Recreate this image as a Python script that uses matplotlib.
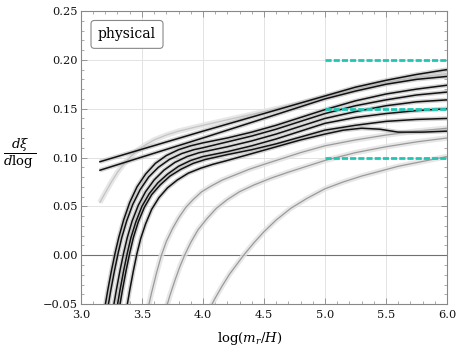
import numpy as np
import matplotlib
matplotlib.use("Agg")
import matplotlib.pyplot as plt
from matplotlib.ticker import MultipleLocator

# ---- data ----
# two nearly straight black curves
lineA_x = [3.156, 3.5, 4.0, 4.5, 4.75, 5.0, 5.25, 5.5, 5.75, 6.0]
lineA_y = [0.0957, 0.1085, 0.127, 0.145, 0.154, 0.163, 0.172, 0.179, 0.185, 0.190]
lineB_x = [3.156, 3.5, 4.0, 4.5, 4.75, 5.0, 5.25, 5.5, 5.75, 6.0]
lineB_y = [0.087, 0.1005, 0.120, 0.140, 0.150, 0.160, 0.168, 0.175, 0.180, 0.183]

# steep black bundle
s1_x = [3.19, 3.22, 3.25, 3.28, 3.31, 3.35, 3.40, 3.46, 3.53, 3.61, 3.70, 3.80, 3.90,
        4.0, 4.2, 4.4, 4.6, 4.8, 5.0, 5.25, 5.5, 5.75, 6.0]
s1_y = [-0.058, -0.036, -0.016, 0.002, 0.018, 0.036, 0.054, 0.070, 0.083, 0.094, 0.102,
        0.108, 0.112, 0.115, 0.120, 0.126, 0.133, 0.141, 0.149, 0.158, 0.165, 0.170, 0.174]
s2_x = [3.215, 3.245, 3.275, 3.305, 3.335, 3.375, 3.425, 3.485, 3.555, 3.635, 3.725,
        3.825, 3.925, 4.0, 4.2, 4.4, 4.6, 4.8, 5.0, 5.25, 5.5, 5.75, 6.0]
s2_y = [-0.058, -0.036, -0.016, 0.002, 0.018, 0.035, 0.052, 0.067, 0.080, 0.090, 0.098,
        0.104, 0.108, 0.110, 0.116, 0.122, 0.129, 0.137, 0.145, 0.153, 0.159, 0.164, 0.167]
s3_x = [3.26, 3.29, 3.32, 3.35, 3.38, 3.42, 3.47, 3.53, 3.60, 3.68, 3.77, 3.87, 3.97,
        4.2, 4.4, 4.6, 4.8, 5.0, 5.25, 5.5, 5.75, 6.0]
s3_y = [-0.058, -0.036, -0.016, 0.002, 0.018, 0.035, 0.051, 0.065, 0.077, 0.087, 0.095,
        0.101, 0.105, 0.111, 0.117, 0.124, 0.132, 0.140, 0.147, 0.153, 0.157, 0.159]
s4_x = [3.29, 3.32, 3.35, 3.38, 3.41, 3.45, 3.50, 3.56, 3.63, 3.71, 3.80, 3.90, 4.0,
        4.2, 4.4, 4.6, 4.8, 5.0, 5.25, 5.5, 5.75, 6.0]
s4_y = [-0.058, -0.036, -0.016, 0.002, 0.018, 0.034, 0.050, 0.063, 0.074, 0.083, 0.091,
        0.097, 0.101, 0.106, 0.112, 0.119, 0.127, 0.135, 0.141, 0.145, 0.148, 0.150]
s5_x = [3.31, 3.34, 3.37, 3.40, 3.43, 3.47, 3.52, 3.58, 3.65, 3.73, 3.82, 3.92, 4.02,
        4.2, 4.4, 4.6, 4.8, 5.0, 5.25, 5.5, 5.75, 6.0]
s5_y = [-0.058, -0.036, -0.016, 0.002, 0.018, 0.034, 0.049, 0.062, 0.072, 0.081, 0.088,
        0.094, 0.098, 0.103, 0.108, 0.114, 0.121, 0.128, 0.133, 0.137, 0.139, 0.140]
s6_x = [3.37, 3.40, 3.43, 3.46, 3.49, 3.53, 3.58, 3.64, 3.71, 3.79, 3.88, 3.98, 4.08,
        4.2, 4.4, 4.6, 4.8, 5.0, 5.15, 5.3, 5.45, 5.6, 5.8, 6.0]
s6_y = [-0.058, -0.036, -0.016, 0.002, 0.017, 0.032, 0.047, 0.059, 0.069, 0.077, 0.084,
        0.089, 0.093, 0.097, 0.104, 0.111, 0.118, 0.124, 0.128, 0.130, 0.129, 0.126, 0.126, 0.127]

# gray curves
g0_x = [3.156, 3.2, 3.25, 3.3, 3.35, 3.4, 3.46, 3.53, 3.6, 3.7, 3.8, 3.9, 4.0, 4.25,
        4.5, 4.75, 5.0, 5.25, 5.5, 5.75, 6.0]
g0_y = [0.054, 0.064, 0.075, 0.085, 0.093, 0.100, 0.107, 0.113, 0.118, 0.123, 0.127,
        0.130, 0.133, 0.140, 0.147, 0.154, 0.162, 0.170, 0.177, 0.182, 0.186]
g1_x = [3.54, 3.58, 3.62, 3.66, 3.70, 3.75, 3.80, 3.86, 3.92, 3.99, 4.07, 4.16, 4.26,
        4.38, 4.5, 4.65, 4.8, 5.0, 5.25, 5.5, 5.75, 6.0]
g1_y = [-0.06, -0.038, -0.018, 0.0, 0.014, 0.027, 0.038, 0.049, 0.057, 0.065, 0.071,
        0.077, 0.082, 0.088, 0.093, 0.099, 0.105, 0.112, 0.118, 0.123, 0.127, 0.130]
g2_x = [3.69, 3.73, 3.77, 3.81, 3.85, 3.90, 3.96, 4.03, 4.11, 4.2, 4.3, 4.42, 4.56,
        4.7, 4.85, 5.0, 5.25, 5.5, 5.75, 6.0]
g2_y = [-0.058, -0.041, -0.026, -0.012, 0.0, 0.013, 0.026, 0.037, 0.048, 0.057, 0.065,
        0.072, 0.079, 0.085, 0.091, 0.097, 0.105, 0.111, 0.116, 0.120]
g3_x = [4.05, 4.1, 4.16, 4.22, 4.28, 4.34, 4.42, 4.5, 4.6, 4.72, 4.85, 5.0, 5.15,
        5.3, 5.45, 5.6, 5.8, 6.0]
g3_y = [-0.056, -0.044, -0.031, -0.019, -0.009, 0.001, 0.013, 0.024, 0.036, 0.048,
        0.058, 0.068, 0.075, 0.081, 0.086, 0.091, 0.096, 0.101]

# cyan reference levels
ref_levels = [0.10, 0.15, 0.20]
ref_xrange = [5.0, 6.0]

xticks = [3.0, 3.5, 4.0, 4.5, 5.0, 5.5, 6.0]
yticks = [-0.05, 0.00, 0.05, 0.10, 0.15, 0.20, 0.25]

plt.rcParams['font.family'] = 'DejaVu Serif'
plt.rcParams['mathtext.fontset'] = 'dejavuserif'

fig = plt.figure(figsize=(4.57, 3.54), dpi=100)
ax = fig.add_axes([0.177, 0.141, 0.801, 0.828])

gray_curves = [(g0_x, g0_y, '#c4c4c4'), (g1_x, g1_y, '#9a9a9a'),
               (g2_x, g2_y, '#9a9a9a'), (g3_x, g3_y, '#9a9a9a')]
black_curves = [(s6_x, s6_y), (s5_x, s5_y), (s4_x, s4_y), (s3_x, s3_y),
                (s2_x, s2_y), (s1_x, s1_y), (lineB_x, lineB_y), (lineA_x, lineA_y)]

for x, y, c in gray_curves:
    ax.plot(x, y, color='#e2e2e2', lw=4.0, alpha=0.8, zorder=2,
            solid_capstyle='butt', solid_joinstyle='round')
    ax.plot(x, y, color=c, lw=0.9, zorder=3, solid_joinstyle='round')

for x, y in black_curves:
    ax.plot(x, y, color='#b0b0b0', lw=3.2, alpha=0.55, zorder=4,
            solid_capstyle='butt', solid_joinstyle='round')
for x, y in black_curves:
    ax.plot(x, y, color='#111111', lw=1.1, zorder=5, solid_joinstyle='round')

for lev in ref_levels:
    ax.plot(ref_xrange, [lev, lev], color='#1fc6b3', lw=2.0,
            linestyle=(0, (2.2, 0.75)), zorder=6)

ax.axhline(0, color='#707070', lw=0.8, zorder=1)

ax.set_xlim(3.0, 6.0)
ax.set_ylim(-0.05, 0.25)
ax.set_xticks(xticks)
ax.set_yticks(yticks)
ax.set_xticklabels([f"{t:.1f}" for t in xticks])
ax.set_yticklabels([f"{t:.2f}".replace('-', '\u2212') for t in yticks])
ax.xaxis.set_minor_locator(MultipleLocator(0.1))
ax.yaxis.set_minor_locator(MultipleLocator(0.01))
ax.tick_params(which='both', direction='in', top=True, right=True,
               color='#888888', labelsize=8.2, labelcolor='#111111', pad=2)
ax.tick_params(axis='x', which='major', pad=4)
ax.tick_params(which='major', length=4, width=0.6)
ax.tick_params(which='minor', length=2, width=0.5)
ax.grid(True, which='major', color='#e3e3e3', lw=0.7, zorder=0)
ax.set_axisbelow(True)
for sp in ax.spines.values():
    sp.set_color('#888888')
    sp.set_linewidth(0.8)

ax.set_xlabel(r'$\log(m_r/H)$', fontsize=9.5)
ax.xaxis.set_label_coords(0.46, -0.09)
fig.text(0.042, 0.565, r'$\dfrac{d\xi}{d\log}$', fontsize=9.5, ha='center', va='center')

ax.text(0.126, 0.92, 'physical', transform=ax.transAxes, fontsize=10,
        ha='center', va='center', zorder=10,
        bbox=dict(boxstyle='round,pad=0.5,rounding_size=0.25', fc='white', ec='#888888', lw=0.8))

fig.savefig('out.png', dpi=100)
